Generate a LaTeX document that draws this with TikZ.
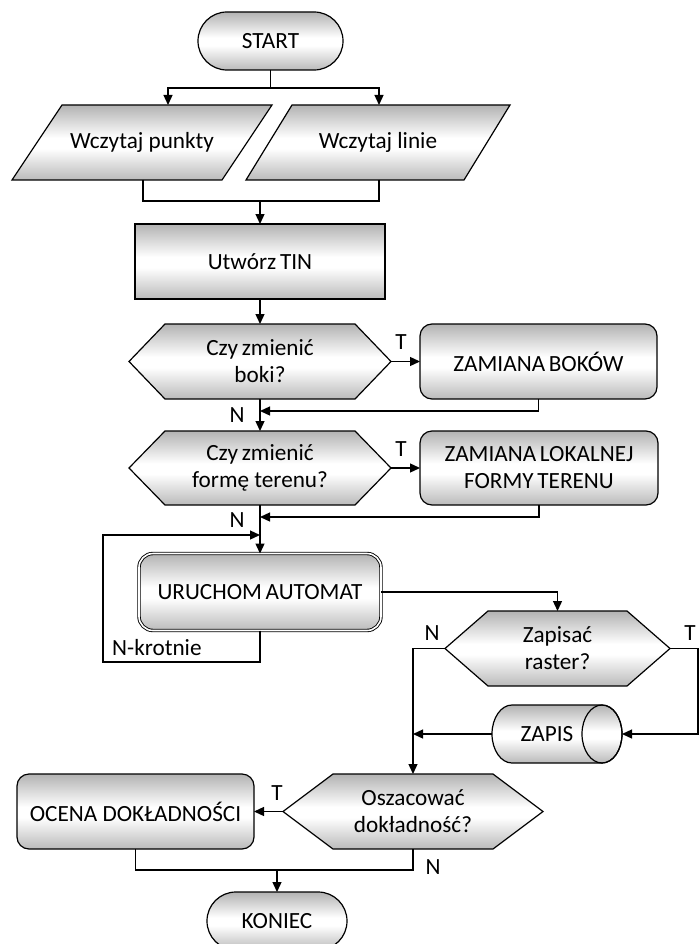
\documentclass[tikz,border=0pt]{standalone}
\usepackage{fontspec}
\setmainfont{Carlito}
\usetikzlibrary{arrows.meta,backgrounds,calc}
\pgfdeclareverticalshading{flowshade}{100bp}{color(0bp)=(black!27); color(25bp)=(black!27); color(46bp)=(white); color(53bp)=(white); color(75bp)=(black!30); color(100bp)=(black!30)}
\newcommand{\tsp}{\hspace{0.16em}}
\tikzset{
  fl/.style={draw, line width=1.2pt, shade, shading=flowshade},
  txt/.style={font=\fontsize{23.2}{27}\selectfont, align=center, inner sep=0pt, outer sep=0pt},
  conn/.style={line width=1.3pt},
  arr/.style={conn, -{Triangle[length=10pt,width=9pt]}},
  lab/.style={font=\fontsize{23.2}{27}\selectfont, inner sep=0pt},
}
\begin{document}
\begin{tikzpicture}[x=1pt,y=-1pt]
\useasboundingbox (0,0) rectangle (699,944);
\clip (0,0) rectangle (699,944);

% ---------- nodes ----------
\node[txt, fl, rounded corners=28.9pt, minimum width=145pt, minimum height=58pt] (start) at (270.5,41) {START};
\node[txt, minimum width=210pt, minimum height=75pt] (p1) at (142,142.5) {Wczytaj punkty};
\node[txt, minimum width=218pt, minimum height=75pt] (p2) at (378,142.5) {Wczytaj linie};
\node[txt, fl, minimum width=250pt, minimum height=75pt] (tin) at (260,261.5) {Utwórz\tsp TIN};
\node[txt, minimum width=262pt, minimum height=75pt] (h1) at (260,361.5) {Czy\tsp zmienić\\boki?};
\node[txt, fl, rounded corners=12pt, minimum width=237pt, minimum height=75pt] (b1) at (538.5,361.5) {ZAMIANA\tsp BOKÓW};
\node[txt, minimum width=262pt, minimum height=74pt] (h2) at (260,468) {Czy\tsp zmienić\\formę terenu?};
\node[txt, fl, rounded corners=12pt, minimum width=238pt, minimum height=74pt] (b2) at (539,468) {ZAMIANA\tsp LOKALNEJ\\FORMY\tsp TERENU};
\node[txt, fl, rounded corners=14pt, double=white, double distance=1.6pt, line width=0.9pt, minimum width=242pt, minimum height=77pt] (uru) at (260,592) {URUCHOM\tsp AUTOMAT};
\node[txt, minimum width=225pt, minimum height=75pt] (h3) at (557.5,648.5) {Zapisać\\raster?};
\node[txt, minimum width=130pt, minimum height=58pt] (zapis) at (557,734) {ZAPIS\kern20pt};
\node[txt, minimum width=260pt, minimum height=75pt] (h4) at (413,811.5) {Oszacować\\dokładność?};
\node[txt, fl, rounded corners=12pt, minimum width=237pt, minimum height=75pt] (oc) at (135.5,811.5) {OCENA DOKŁADNOŚCI};
\node[txt, fl, rounded corners=28.9pt, minimum width=140pt, minimum height=58pt] (ko) at (277,921) {KONIEC};

% ---------- drawn shapes behind text ----------
\begin{pgfonlayer}{background}
\path[fl] ([xshift=25pt]p1.north west) -- ([xshift=25pt]p1.north east) -- ([xshift=-25pt]p1.south east) -- ([xshift=-25pt]p1.south west) -- cycle;
\path[fl] ([xshift=23pt]p2.north west) -- ([xshift=23pt]p2.north east) -- ([xshift=-23pt]p2.south east) -- ([xshift=-23pt]p2.south west) -- cycle;
\path[fl] (h1.west) -- ([xshift=36pt]h1.north west) -- ([xshift=-36pt]h1.north east) -- (h1.east) -- ([xshift=-36pt]h1.south east) -- ([xshift=36pt]h1.south west) -- cycle;
\path[fl] (h2.west) -- ([xshift=36pt]h2.north west) -- ([xshift=-36pt]h2.north east) -- (h2.east) -- ([xshift=-36pt]h2.south east) -- ([xshift=36pt]h2.south west) -- cycle;
\path[fl] (h3.west) -- ([xshift=43pt]h3.north west) -- ([xshift=-43pt]h3.north east) -- (h3.east) -- ([xshift=-43pt]h3.south east) -- ([xshift=43pt]h3.south west) -- cycle;
\path[fl] (h4.west) -- ([xshift=50pt]h4.north west) -- ([xshift=-50pt]h4.north east) -- (h4.east) -- ([xshift=-50pt]h4.south east) -- ([xshift=50pt]h4.south west) -- cycle;
\path[fl] ([xshift=20pt]zapis.north west) -- ([xshift=-20pt]zapis.north east) arc (90:-90:20pt and 29pt) -- ([xshift=20pt]zapis.south west) arc (270:90:20pt and 29pt) -- cycle;
\draw[line width=1.2pt] ([xshift=-20pt]zapis.east) ellipse (20pt and 29pt);
\end{pgfonlayer}

% ---------- connectors ----------
\coordinate (j1) at (270.5,88);
\draw[conn] (start.south) -- (j1);
\draw[arr] (j1) -| ([xshift=26pt]p1.north);
\draw[arr] (j1) -| ([xshift=1pt]p2.north);
\coordinate (j2) at (260,201);
\draw[conn] ([xshift=1pt]p1.south) |- (j2);
\draw[conn] ([xshift=1pt]p2.south) |- (j2);
\draw[arr] (j2) -- (tin.north);
\draw[arr] (tin.south) -- (h1.north);
\draw[arr] (h1.east) -- (b1.west);
\coordinate (r1) at (260,411);
\draw[arr] (b1.south) |- (r1);
\draw[arr] (h1.south) -- (h2.north);
\draw[arr] (h2.east) -- (b2.west);
\coordinate (r2) at (260,517);
\draw[arr] (b2.south) |- (r2);
\draw[arr] (h2.south) -- (uru.north);
\coordinate (lb) at (103,662);
\coordinate (lp) at (260,535);
\draw[arr] (uru.south) |- (lb) |- (lp);
\draw[arr] (uru.east) -| (h3.north);
\draw[arr] (h3.west) -| (h4.north);
\coordinate (tc) at (698,734);
\draw[arr] (h3.east) -| (tc) -- (zapis.east);
\draw[arr] (zapis.west) -- (zapis.west -| h4.north);
\draw[arr] (h4.west) -- (oc.east);
\coordinate (k) at (277,870);
\draw[conn] (h4.south) |- (k) -| (oc.south);
\draw[arr] (k) -- (ko.north);

% ---------- labels ----------
\node[lab] (t1) at (401,342) {T};
\node[lab] (t2) at (401,449) {T};
\node[lab] (n1) at (237,415) {N};
\node[lab] (n2) at (237,520) {N};
\node[lab, anchor=west] (nk) at (112,648) {N-krotnie};
\node[lab] (n3) at (432,633) {N};
\node[lab] (t3) at (690,633) {T};
\node[lab] (t4) at (277,793) {T};
\node[lab] (n4) at (433,867) {N};
\end{tikzpicture}
\end{document}
